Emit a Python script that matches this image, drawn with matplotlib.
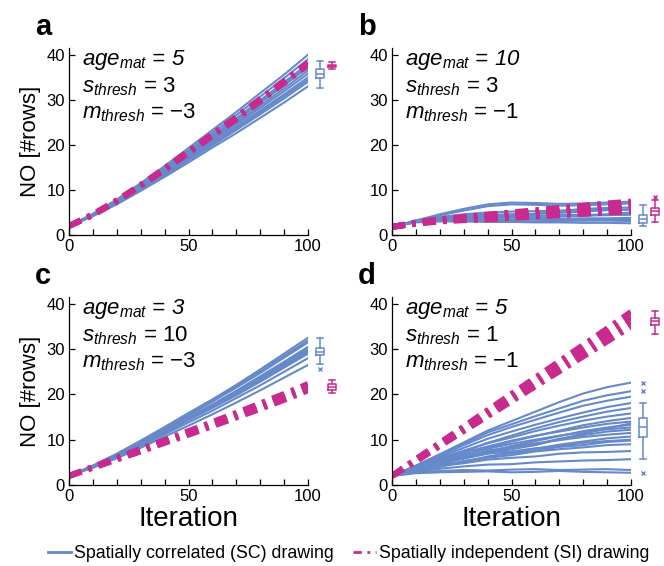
import matplotlib
matplotlib.use('Agg')
import matplotlib.pyplot as plt
from matplotlib.lines import Line2D
from matplotlib.ticker import MultipleLocator

plt.rcParams['font.family'] = ['Liberation Sans', 'DejaVu Sans']
plt.rcParams['mathtext.fontset'] = 'custom'
plt.rcParams['mathtext.rm'] = 'Liberation Sans'
plt.rcParams['mathtext.it'] = 'Liberation Sans:italic'

SC_COLOR = '#6689CA'
SI_COLOR = '#C82A8E'

# iterations sampled every 10 steps
iters = [0, 10, 20, 30, 40, 50, 60, 70, 80, 90, 100]

# ---------------- panel a ----------------
a_sc = [
    [2.0, 4.2, 6.8, 9.8, 12.9, 16.1, 19.4, 22.6, 26.0, 29.4, 33.0],
    [2.0, 4.2, 7.0, 10.0, 13.2, 16.6, 19.9, 23.3, 26.8, 30.3, 34.0],
    [2.0, 4.3, 7.1, 10.3, 13.6, 17.0, 20.5, 24.0, 27.6, 31.2, 35.0],
    [2.0, 4.4, 7.2, 10.5, 13.8, 17.4, 20.9, 24.5, 28.2, 31.9, 35.8],
    [2.0, 4.4, 7.4, 10.6, 14.1, 17.7, 21.3, 24.9, 28.7, 32.5, 36.5],
    [2.0, 4.5, 7.5, 10.8, 14.3, 18.0, 21.7, 25.4, 29.3, 33.2, 37.2],
    [2.0, 4.5, 7.6, 11.0, 14.6, 18.4, 22.2, 25.9, 29.9, 33.9, 38.0],
    [2.0, 4.6, 7.7, 11.3, 15.0, 18.8, 22.7, 26.6, 30.7, 34.8, 39.0],
    [2.0, 4.7, 7.9, 11.5, 15.3, 19.3, 23.3, 27.3, 31.5, 35.6, 40.0],
    [2.0, 4.3, 7.0, 10.1, 13.4, 16.8, 20.2, 23.7, 27.2, 30.8, 34.5],
    [2.0, 4.5, 7.5, 10.9, 14.4, 18.2, 21.9, 25.7, 29.6, 33.6, 37.6],
]
a_si = [
    [2.0, 4.5, 7.6, 11.0, 14.6, 18.4, 22.2, 25.9, 29.9, 33.9, 38.0],
    [2.0, 4.6, 7.7, 11.1, 14.8, 18.6, 22.4, 26.2, 30.2, 34.2, 38.3],
    [2.0, 4.4, 7.5, 10.9, 14.5, 18.2, 22.0, 25.7, 29.7, 33.7, 37.7],
]
a_box_sc = dict(med=35.8, q1=34.75, q3=36.9, whislo=32.6, whishi=38.6, fliers=[])
a_box_si = dict(med=37.5, q1=37.3, q3=37.8, whislo=36.8, whishi=38.5, fliers=[])

# ---------------- panel b ----------------
b_sc = [
    [1.8, 2.9, 3.3, 3.4, 3.5, 3.5, 3.6, 3.6, 3.7, 3.7, 3.8],
    [1.8, 3.0, 3.7, 4.0, 4.2, 4.3, 4.3, 4.4, 4.5, 4.5, 4.6],
    [1.8, 3.1, 4.0, 4.6, 5.0, 5.2, 5.3, 5.4, 5.5, 5.6, 5.6],
    [1.8, 3.2, 4.4, 5.4, 6.4, 6.8, 6.7, 6.5, 6.6, 6.8, 7.0],
    [1.8, 3.2, 4.6, 5.8, 6.8, 7.2, 7.1, 6.9, 7.0, 7.2, 7.4],
    [1.8, 2.8, 3.0, 3.0, 2.9, 2.9, 2.8, 2.8, 2.7, 2.7, 2.6],
    [1.8, 2.9, 3.4, 3.6, 3.8, 4.0, 4.1, 4.2, 4.3, 4.4, 4.5],
    [1.8, 3.0, 3.6, 3.9, 4.0, 4.1, 4.0, 4.1, 4.3, 4.6, 5.0],
    [1.8, 3.0, 3.5, 3.7, 3.9, 4.2, 4.7, 5.3, 5.8, 6.0, 6.1],
    [1.8, 2.9, 3.2, 3.3, 3.3, 3.4, 3.4, 3.3, 3.3, 3.4, 3.4],
    [1.8, 3.1, 3.9, 4.3, 4.5, 4.6, 4.7, 4.9, 5.2, 5.5, 5.7],
    [1.8, 2.9, 3.2, 3.2, 3.1, 3.1, 3.0, 3.1, 3.2, 3.2, 3.1],
]
b_si = [
    [1.8, 2.6, 3.2, 3.5, 3.8, 4.1, 4.5, 4.9, 5.3, 5.6, 5.9],
    [1.8, 2.7, 3.4, 3.8, 4.2, 4.6, 5.0, 5.5, 6.0, 6.4, 6.8],
    [1.8, 2.5, 3.0, 3.3, 3.5, 3.8, 4.1, 4.4, 4.7, 5.0, 5.2],
    [1.8, 2.8, 3.5, 4.0, 4.5, 5.0, 5.5, 6.0, 6.5, 7.0, 7.4],
    [1.8, 2.6, 3.1, 3.4, 3.6, 3.9, 4.2, 4.5, 4.8, 5.1, 5.4],
    [1.8, 2.6, 3.3, 3.7, 4.0, 4.4, 4.8, 5.2, 5.6, 6.0, 6.3],
]
b_box_sc = dict(med=3.6, q1=2.7, q3=4.5, whislo=2.1, whishi=6.7, fliers=[])
b_box_si = dict(med=5.3, q1=4.5, q3=6.0, whislo=2.8, whishi=7.8, fliers=[8.4])

# ---------------- panel c ----------------
c_sc = [
    [2.0, 3.8, 5.9, 8.2, 10.7, 13.1, 15.6, 18.2, 20.9, 23.7, 26.5],
    [2.0, 4.0, 6.2, 8.6, 11.2, 13.8, 16.4, 19.2, 22.0, 25.0, 28.0],
    [2.0, 4.0, 6.3, 8.9, 11.6, 14.3, 17.0, 19.8, 22.8, 25.9, 29.0],
    [2.0, 4.1, 6.4, 9.1, 11.9, 14.6, 17.4, 20.3, 23.4, 26.6, 29.8],
    [2.0, 4.1, 6.6, 9.3, 12.1, 15.0, 17.8, 20.8, 24.0, 27.2, 30.5],
    [2.0, 4.2, 6.7, 9.5, 12.5, 15.4, 18.4, 21.5, 24.7, 28.1, 31.5],
    [2.0, 4.3, 6.9, 9.8, 12.8, 15.9, 18.9, 22.1, 25.5, 29.0, 32.5],
    [2.0, 4.1, 6.5, 9.2, 12.0, 14.8, 17.6, 20.6, 23.7, 26.9, 30.2],
    [2.0, 4.0, 6.3, 9.0, 11.7, 14.4, 17.2, 20.1, 23.1, 26.2, 29.4],
    [2.0, 4.2, 6.8, 9.6, 12.6, 15.6, 18.6, 21.8, 25.1, 28.5, 31.9],
]
c_si = [
    [2.0, 3.9, 5.8, 7.7, 9.6, 11.5, 13.4, 15.3, 17.3, 19.4, 21.6],
    [2.0, 4.0, 6.0, 8.0, 9.9, 11.9, 13.9, 15.9, 18.0, 20.1, 22.3],
    [2.0, 3.8, 5.6, 7.4, 9.3, 11.1, 13.0, 14.9, 16.8, 18.8, 20.9],
]
c_box_sc = dict(med=29.4, q1=28.7, q3=30.2, whislo=26.7, whishi=32.4, fliers=[25.7])
c_box_si = dict(med=21.6, q1=20.9, q3=22.2, whislo=20.2, whishi=23.2, fliers=[])

# ---------------- panel d ----------------
d_sc = [
    [2.0, 2.6, 2.8, 2.9, 3.0, 2.8, 2.9, 3.1, 2.9, 2.8, 2.7],
    [2.0, 3.0, 3.6, 4.1, 4.5, 4.6, 5.0, 5.2, 5.4, 5.5, 5.7],
    [2.0, 3.3, 4.2, 4.8, 5.6, 6.0, 6.3, 6.9, 7.2, 7.3, 7.5],
    [2.0, 3.1, 4.0, 5.2, 6.0, 6.6, 7.4, 7.9, 8.3, 8.8, 9.0],
    [2.0, 3.5, 4.9, 5.8, 6.9, 7.4, 8.1, 8.6, 9.3, 9.7, 10.0],
    [2.0, 3.2, 4.1, 5.3, 6.1, 7.3, 8.0, 8.9, 9.6, 10.3, 10.7],
    [2.0, 3.6, 5.2, 6.3, 7.6, 8.4, 9.2, 9.9, 10.6, 11.1, 11.5],
    [2.0, 3.4, 4.6, 6.0, 7.1, 8.3, 9.0, 10.2, 11.0, 11.8, 12.2],
    [2.0, 3.7, 5.3, 6.8, 8.0, 9.1, 10.0, 10.9, 11.6, 12.3, 12.7],
    [2.0, 3.3, 4.5, 5.9, 7.3, 8.6, 9.7, 10.8, 11.9, 12.7, 13.3],
    [2.0, 3.8, 5.6, 7.2, 8.5, 9.8, 10.9, 11.8, 12.7, 13.5, 14.0],
    [2.0, 3.5, 5.0, 6.7, 8.2, 9.6, 10.8, 12.0, 13.2, 14.1, 14.8],
    [2.0, 3.9, 5.8, 7.6, 9.2, 10.5, 11.9, 13.1, 14.2, 15.1, 15.8],
    [2.0, 3.6, 5.4, 7.4, 9.3, 10.9, 12.5, 13.9, 15.1, 16.2, 17.0],
    [2.0, 4.0, 6.1, 8.2, 10.2, 11.8, 13.3, 14.7, 16.0, 17.2, 18.1],
    [2.0, 4.1, 6.4, 8.8, 11.0, 12.8, 14.4, 16.0, 17.5, 18.6, 19.5],
    [2.0, 4.2, 6.6, 9.1, 11.6, 13.4, 15.2, 16.9, 18.6, 19.8, 20.7],
    [2.0, 4.3, 6.8, 9.4, 12.0, 14.1, 16.2, 18.3, 20.2, 21.6, 22.6],
    [2.0, 2.8, 3.1, 3.3, 3.2, 3.4, 3.5, 3.3, 3.4, 3.5, 3.3],
    [2.0, 3.2, 4.4, 5.1, 6.3, 7.0, 7.6, 8.4, 8.8, 9.5, 9.8],
    [2.0, 3.7, 5.1, 6.2, 7.0, 7.9, 8.8, 10.1, 11.3, 12.5, 13.6],
]
d_si = [
    [2.0, 5.4, 8.8, 12.2, 15.6, 19.0, 22.4, 25.8, 29.2, 32.6, 36.0],
    [2.0, 5.6, 9.1, 12.6, 16.1, 19.6, 23.1, 26.6, 30.1, 33.6, 37.1],
    [2.0, 5.2, 8.6, 11.9, 15.2, 18.5, 21.8, 25.1, 28.4, 31.7, 35.0],
    [2.0, 5.7, 9.3, 12.9, 16.5, 20.1, 23.7, 27.3, 30.9, 34.5, 38.2],
]
d_box_sc = dict(med=12.7, q1=10.7, q3=14.8, whislo=5.7, whishi=18.1, fliers=[20.7, 22.6, 2.7])
d_box_si = dict(med=36.1, q1=35.3, q3=36.9, whislo=33.3, whishi=38.5, fliers=[])

panels = [
    ('a', a_sc, a_si, a_box_sc, a_box_si, ('5', '3', '\u22123')),
    ('b', b_sc, b_si, b_box_sc, b_box_si, ('10', '3', '\u22121')),
    ('c', c_sc, c_si, c_box_sc, c_box_si, ('3', '10', '\u22123')),
    ('d', d_sc, d_si, d_box_sc, d_box_si, ('5', '1', '\u22121')),
]

W, H = 664, 566
fig = plt.figure(figsize=(W / 100, H / 100), dpi=100)

# axes boxes in pixels: left, bottom, right, top (measured from the top edge)
boxes = {'a': (69, 235, 308, 48), 'b': (392, 235, 631, 48),
         'c': (69, 485, 308, 297), 'd': (392, 485, 631, 297)}

si_dash = (0, (2.2, 1.2, 0.6, 1.2))

for letter, sc, si, box_sc, box_si, params in panels:
    l, b, r, t = boxes[letter]
    ax = fig.add_axes([l / W, 1 - b / H, (r - l) / W, (b - t) / H])

    for run in sc:
        ax.plot(iters, run, color=SC_COLOR, lw=1.5, solid_joinstyle='round')
    for run in si:
        ax.plot(iters, run, color=SI_COLOR, lw=4.3, linestyle=si_dash)

    # final-value box plots just right of the axis
    for stats, pos, col in [(box_sc, 105, SC_COLOR), (box_si, 110, SI_COLOR)]:
        art = ax.bxp([stats], positions=[pos], widths=3.6, showfliers=True,
                     manage_ticks=False,
                     boxprops=dict(color=col, lw=1.1),
                     medianprops=dict(color=col, lw=1.1),
                     whiskerprops=dict(color=col, lw=1.1),
                     capprops=dict(color=col, lw=1.1),
                     flierprops=dict(marker='x', markersize=3, markeredgecolor=col,
                                     markeredgewidth=1.0),
                     capwidths=2.2)
        for items in art.values():
            for a in items:
                a.set_clip_on(False)

    ax.set_xlim(0, 100)
    ax.set_ylim(0, 41.5)
    ax.set_xticks([0, 50, 100])
    ax.xaxis.set_minor_locator(MultipleLocator(10))
    ax.set_yticks([0, 10, 20, 30, 40])
    ax.tick_params(direction='in', labelsize=12, length=4, width=0.9, pad=3)
    ax.tick_params(which='minor', direction='in', length=4, width=0.9)
    for s in ['top', 'right']:
        ax.spines[s].set_visible(False)
    for s in ['left', 'bottom']:
        ax.spines[s].set_linewidth(0.9)

    ax.text(0.054, 0.909, r'$age_{mat}$ = ' + params[0], transform=ax.transAxes,
            fontsize=16, style='italic', va='baseline')
    ax.text(0.054, 0.765, r'$s_{thresh}$ = ' + params[1], transform=ax.transAxes,
            fontsize=16, va='baseline')
    ax.text(0.054, 0.626, r'$m_{thresh}$ = ' + params[2], transform=ax.transAxes,
            fontsize=16, va='baseline')

    fig.text((l - 34) / W, 1 - (t - 13) / H, letter, fontsize=21, fontweight='bold',
             va='baseline')

    if letter in ('a', 'c'):
        ax.set_ylabel('NO [#rows]', fontsize=16, labelpad=4)
    if letter in ('c', 'd'):
        ax.set_xlabel('Iteration', fontsize=20, labelpad=1)

handles = [Line2D([], [], color=SC_COLOR, lw=2),
           Line2D([], [], color=SI_COLOR, lw=2, linestyle=(0, (3, 2, 1, 2)))]
fig.legend(handles, ['Spatially correlated (SC) drawing', 'Spatially independent (SI) drawing'],
           loc='lower center', bbox_to_anchor=(0.525, -0.022), ncol=2, frameon=False,
           fontsize=12.8, handlelength=1.3, handletextpad=0.15, columnspacing=1.1)

fig.savefig('out.png', dpi=100)
